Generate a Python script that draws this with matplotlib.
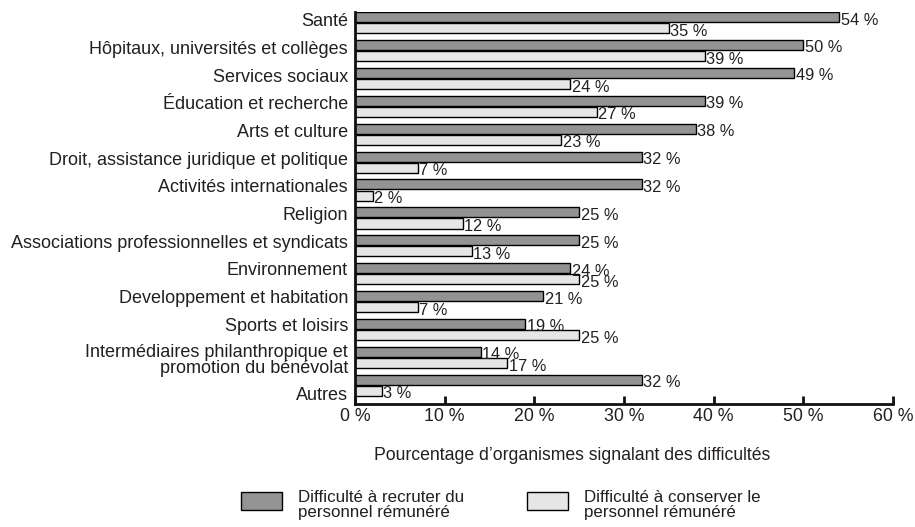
import numpy as np
import matplotlib
matplotlib.use("Agg")
import matplotlib.pyplot as plt
from matplotlib.patches import Rectangle

plt.rcParams['font.family'] = ['Liberation Sans', 'DejaVu Sans']

categories = [
    "Santé",
    "Hôpitaux, universités et collèges",
    "Services sociaux",
    "Éducation et recherche",
    "Arts et culture",
    "Droit, assistance juridique et politique",
    "Activités internationales",
    "Religion",
    "Associations professionnelles et syndicats",
    "Environnement",
    "Developpement et habitation",
    "Sports et loisirs",
    "Intermédiaires philanthropique et\npromotion du bénévolat",
    "Autres",
]
recruter = [54, 50, 49, 39, 38, 32, 32, 25, 25, 24, 21, 19, 14, 32]
conserver = [35, 39, 24, 27, 23, 7, 2, 12, 13, 25, 7, 25, 17, 3]
xticks = [0, 10, 20, 30, 40, 50, 60]
legend_labels = ["Difficulté à recruter du\npersonnel rémunéré",
                 "Difficulté à conserver le\npersonnel rémunéré"]

DARK = "#939393"
LIGHT = "#e6e6e6"
TXT = "#231f20"

W, H = 915, 527
fig = plt.figure(figsize=(W / 100, H / 100), dpi=100)
ax = fig.add_axes([355 / W, 1 - 404 / H, 538 / W, 392 / H])

y = np.arange(len(categories))
h = 0.36
ax.barh(y - 0.2, recruter, height=h, color=DARK, edgecolor="black", lw=1)
ax.barh(y + 0.2, conserver, height=h, color=LIGHT, edgecolor="black", lw=1)

for i, (a, b) in enumerate(zip(recruter, conserver)):
    ax.annotate(f"{a} %", (a, i - 0.2), xytext=(1, -2.2), textcoords="offset points",
                va="center", ha="left", fontsize=11.8, color=TXT)
    ax.annotate(f"{b} %", (b, i + 0.2), xytext=(1, -2.2), textcoords="offset points",
                va="center", ha="left", fontsize=11.8, color=TXT)

# category labels sit near the dark bar; the last ones drift down as in the original
label_pos = y - 0.10 - 0.008 * y
label_pos[-2] += 0.25
label_pos[-1] = y[-1] + 0.3

ax.set_xlim(0, 60)
ax.set_ylim(13.67, -0.38)
ax.set_xticks(xticks)
ax.set_xticklabels([f"{t} %" for t in xticks])
ax.set_yticks(label_pos)
ax.set_yticklabels(categories, linespacing=0.95)
ax.tick_params(axis="x", direction="in", length=6, width=2, labelsize=12.8,
               color="#111", labelcolor=TXT, pad=3)
ax.tick_params(axis="y", length=0, labelsize=13, labelcolor=TXT, pad=5)
for s in ("top", "right"):
    ax.spines[s].set_visible(False)
for s in ("left", "bottom"):
    ax.spines[s].set_linewidth(2)
    ax.spines[s].set_color("#111")

fig.text(572 / W, 1 - 455 / H, "Pourcentage d\u2019organismes signalant des difficultés",
         ha="center", va="center", fontsize=12.7, color=TXT)

# legend drawn by hand
for x0, col, lab in zip([241, 527], [DARK, LIGHT], legend_labels):
    fig.add_artist(Rectangle((x0 / W, 1 - 510 / H), 41 / W, 18 / H,
                             transform=fig.transFigure, facecolor=col,
                             edgecolor="black", lw=1))
    fig.text((x0 + 57) / W, 1 - 505 / H, lab, ha="left", va="center",
             fontsize=12.2, color=TXT, linespacing=0.95)

fig.savefig("out.png", dpi=100)
